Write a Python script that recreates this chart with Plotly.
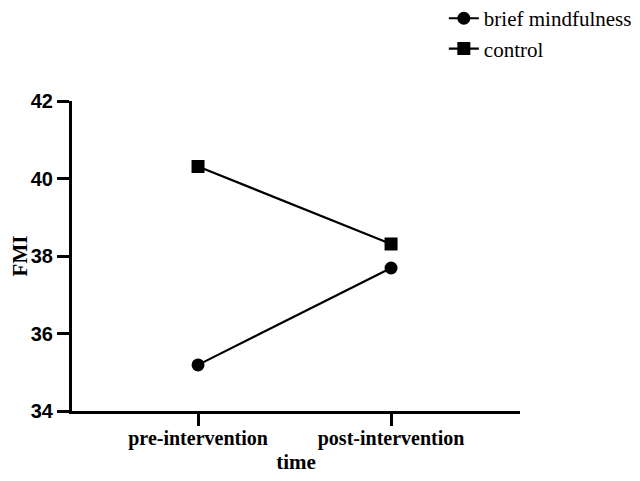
import plotly.graph_objects as go

time_points = ["pre-intervention", "post-intervention"]
brief_mindfulness = [35.19, 37.69]
control = [40.31, 38.31]

fig = go.Figure()

fig.add_trace(go.Scatter(
    x=[0, 1], y=brief_mindfulness,
    mode="lines+markers",
    name="brief mindfulness",
    line=dict(color="black", width=2.2),
    marker=dict(symbol="circle", size=13, color="black"),
    legendgroup="a",
))

fig.add_trace(go.Scatter(
    x=[0, 1], y=control,
    mode="lines+markers",
    name="control",
    line=dict(color="black", width=2.2),
    marker=dict(symbol="square", size=13, color="black"),
    legendgroup="b",
))

# the page body adds an 8px offset, so margins are shifted to compensate
fig.update_layout(
    width=640, height=481,
    margin=dict(l=64, r=128, t=93, b=78, autoexpand=False),
    plot_bgcolor="white",
    paper_bgcolor="white",
    showlegend=True,
    legend=dict(
        x=0.83, y=1.332, xref="paper", yref="paper",
        xanchor="left", yanchor="top",
        font=dict(family="Liberation Serif", size=21, color="black"),
        traceorder="grouped", tracegroupgap=0,
        bgcolor="rgba(0,0,0,0)",
    ),
    xaxis=dict(
        range=[-0.653, 1.668],
        tickmode="array", tickvals=[0, 1], ticktext=time_points,
        showline=True, linecolor="black", linewidth=3,
        ticks="outside", ticklen=12, tickwidth=3, tickcolor="black",
        ticklabelstandoff=-5,
        showgrid=False, zeroline=False,
        tickfont=dict(family="Liberation Serif", size=20, color="black", weight="bold"),
        title=dict(text="<b>time</b>", font=dict(family="Liberation Serif", size=21, color="black"), standoff=6),
    ),
    yaxis=dict(
        range=[34, 42],
        tickvals=[34, 36, 38, 40, 42],
        showline=True, linecolor="black", linewidth=3,
        ticks="outside", ticklen=12, tickwidth=3, tickcolor="black",
        showgrid=False, zeroline=False,
        tickfont=dict(family="Liberation Sans", size=20, color="black", weight="bold"),
        title=dict(text="<b>FMI</b>", font=dict(family="Liberation Serif", size=21, color="black"), standoff=6),
    ),
)

fig.write_html("out.html")
